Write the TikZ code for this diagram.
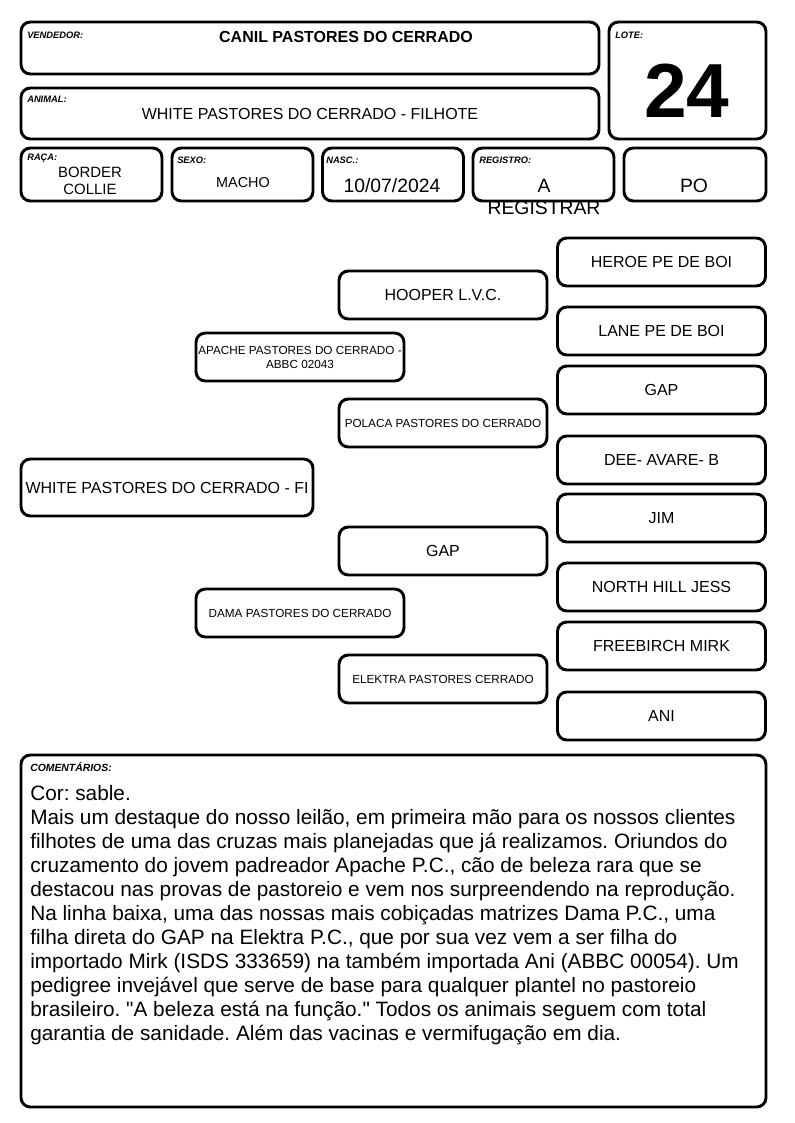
\documentclass[tikz,border=0pt]{standalone}
\usepackage{fontspec}
\setmainfont{Liberation Sans}[Ligatures=TeXOff]
\usetikzlibrary{positioning}
\frenchspacing

\begin{document}
\begin{tikzpicture}[x=0.75pt,y=-0.75pt,
  cell/.style={draw=black,fill=white,line width=2.2pt,rounded corners=7pt,inner sep=0pt},
  ped/.style={cell,minimum width=156pt,minimum height=36pt,align=center},
  row/.style={cell,minimum width=105.75pt,minimum height=39.75pt},
  lbl/.style={font=\fontsize{7}{8}\selectfont\bfseries\itshape,inner sep=0pt,anchor=west},
  big/.style={font=\fontsize{12}{14}\selectfont},
  small/.style={font=\fontsize{8.8}{10.5}\selectfont},
  val/.style={inner sep=0pt,align=center}]

\useasboundingbox[fill=white] (0,0) rectangle (794,1123);

% ---- header
\node[cell,minimum width=433.5pt,minimum height=39pt] (vend) at (310,48) {};
\node[lbl] (vendlbl) at (27,35) {VENDEDOR:};
\node[val,font=\fontsize{12}{14}\selectfont\bfseries] (vendtxt) at (346,37) {CANIL PASTORES DO CERRADO};

\node[cell,minimum width=433.5pt,minimum height=38.25pt,big] (animal) at (310,113.5) {WHITE PASTORES DO CERRADO - FILHOTE};
\node[lbl] (animallbl) at (27,99) {ANIMAL:};

\node[cell,minimum width=117.75pt,minimum height=87.75pt] (lote) at (687.5,80.5) {};
\node[lbl] (lotelbl) at (615,35) {LOTE:};
\node[val,font=\fontsize{57.5}{60}\selectfont\bfseries] (lotetxt) at (687,91) {24};

% ---- data row
\node[row] (raca) at (91.5,174.5) {};
\node[row] (sexo) at (242.5,174.5) {};
\node[row] (nasc) at (393,174.5) {};
\node[row] (reg) at (543.5,174.5) {};
\node[row,minimum width=106.5pt] (po) at (695,174.5) {};
\node[lbl] (racalbl) at (27,158) {RAÇA:};
\node[lbl] (sexolbl) at (177,160) {SEXO:};
\node[lbl] (nasclbl) at (326,160) {NASC.:};
\node[lbl] (reglbl) at (479,160) {REGISTRO:};
\node[val,font=\fontsize{11.2}{12.8}\selectfont] (racatxt) at (90,180.5) {BORDER\\COLLIE};
\node[val,font=\fontsize{10.8}{12}\selectfont] (sexotxt) at (243,183) {MACHO};
\node[val,font=\fontsize{14.5}{16.5}\selectfont] (nasctxt) at (392,186) {10/07/2024};
\node[val,font=\fontsize{14.5}{16.5}\selectfont] (regtxt) at (544,197) {A\\REGISTRAR};
\node[val,font=\fontsize{14.5}{16.5}\selectfont] (potxt) at (694,186) {PO};

% ---- pedigree
\node[cell,minimum width=219pt,minimum height=42.75pt,big] (pup) at (167,487.5) {WHITE PASTORES DO CERRADO - FI};

\node[ped,small] (sire) at (300,357) {APACHE PASTORES DO CERRADO -\\ABBC 02043};
\node[ped,small] (dam) at (300,613) {DAMA PASTORES DO CERRADO};

\node[ped,big] (ss) at (443,295) {HOOPER L.V.C.};
\node[ped,small] (sd) at (443,423) {POLACA PASTORES DO CERRADO};
\node[ped,big] (ds) at (443,551) {GAP};
\node[ped,small] (dd) at (443,679) {ELEKTRA PASTORES CERRADO};

\node[ped,big] (sss) at (661.5,262) {HEROE PE DE BOI};
\node[ped,big] (ssd) at (661.5,331) {LANE PE DE BOI};
\node[ped,big] (sds) at (661.5,390) {GAP};
\node[ped,big] (sdd) at (661.5,460) {DEE- AVARE- B};
\node[ped,big] (dss) at (661.5,518) {JIM};
\node[ped,big] (dsd) at (661.5,587) {NORTH HILL JESS};
\node[ped,big] (dds) at (661.5,646) {FREEBIRCH MIRK};
\node[ped,big] (ddd) at (661.5,716) {ANI};

% ---- comments
\node[cell,minimum width=558.75pt,minimum height=264pt] (coment) at (393.5,931) {};
\node[lbl,font=\fontsize{7.8}{9}\selectfont\bfseries\itshape] (comentlbl) at (30,767) {COMENTÁRIOS:};
\node[inner sep=0pt,anchor=north west,align=left,font=\fontsize{15.6}{18}\selectfont] (comenttxt) at (30,785) {%
Cor: sable.\\
Mais um destaque do nosso leilão, em primeira mão para os nossos clientes\\
filhotes de uma das cruzas mais planejadas que já realizamos. Oriundos do\\
cruzamento do jovem padreador Apache P.C., cão de beleza rara que se\\
destacou nas provas de pastoreio e vem nos surpreendendo na reprodução.\\
Na linha baixa, uma das nossas mais cobiçadas matrizes Dama P.C., uma\\
filha direta do GAP na Elektra P.C., que por sua vez vem a ser filha do\\
importado Mirk (ISDS 333659) na também importada Ani (ABBC 00054). Um\\
pedigree invejável que serve de base para qualquer plantel no pastoreio\\
brasileiro. "A beleza está na função." Todos os animais seguem com total\\
garantia de sanidade. Além das vacinas e vermifugação em dia.};
\end{tikzpicture}
\end{document}
